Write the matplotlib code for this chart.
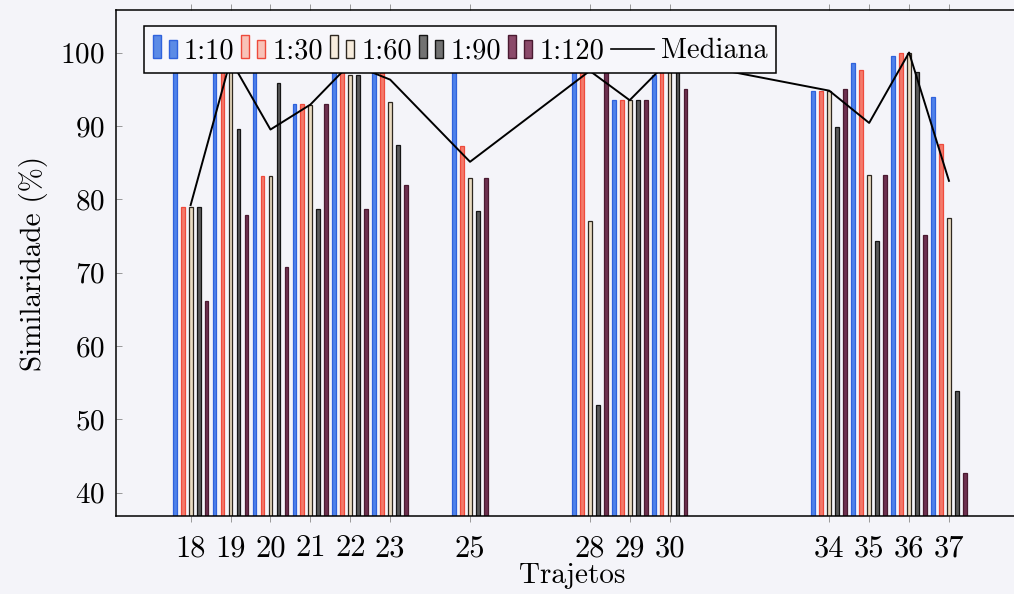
import matplotlib
matplotlib.use('Agg')
import numpy as np
from matplotlib import pyplot as plt
from matplotlib.patches import Rectangle
from matplotlib.lines import Line2D
from matplotlib.offsetbox import DrawingArea, TextArea, HPacker, AnchoredOffsetbox

plt.rcParams['font.family'] = 'serif'
plt.rcParams['font.serif'] = ['cmr10']
plt.rcParams['mathtext.fontset'] = 'cm'
plt.rcParams['axes.formatter.use_mathtext'] = True

# trajectories and similarity per sampling scale
trajetos = [18, 19, 20, 21, 22, 23, 25, 28, 29, 30, 34, 35, 36, 37]
s_1_10 = [100, 100, 100, 93.0, 100, 97.3, 100, 100, 93.5, 96.9, 94.8, 98.6, 99.5, 93.9]
s_1_30 = [79.0, 99.0, 83.2, 93.0, 100, 98.0, 87.3, 100, 93.5, 100, 94.8, 97.6, 100, 87.5]
s_1_60 = [79.0, 98.0, 83.2, 92.8, 97.0, 93.2, 82.9, 77.0, 93.5, 100, 94.8, 83.3, 100, 77.5]
s_1_90 = [79.0, 89.6, 95.9, 78.7, 97.0, 87.4, 78.4, 52.0, 93.5, 100, 89.9, 74.3, 97.4, 53.9]
s_1_120 = [66.1, 77.8, 70.7, 93.0, 78.7, 82.0, 82.9, 99.0, 93.5, 95.0, 95.0, 83.3, 75.1, 42.6]
mediana = [79.2, 99.0, 89.5, 92.9, 98.5, 96.3, 85.1, 97.5, 93.5, 99.0, 94.8, 90.4, 100.0, 82.5]

labels = ['1:10', '1:30', '1:60', '1:90', '1:120']
series = [s_1_10, s_1_30, s_1_60, s_1_90, s_1_120]
fills = ['#4f82ea', '#f47a6a', '#eadcc2', '#5a5a5a', '#6e3050']
edges = ['#2f62dc', '#ee4a3c', '#2e2820', '#151515', '#4a1a30']
leg_fills = ['#5b8be6', '#f8c2b8', '#f7ecdc', '#727272', '#8b4a6a']

bg = '#f4f4f9'
fs = 21

fig = plt.figure(figsize=(10.14, 5.94), dpi=100, facecolor=bg)
ax = fig.add_axes([116 / 1014, 78 / 594, 912 / 1014, 506 / 594], facecolor=bg)

x = np.array(trajetos, dtype=float)
for i, (vals, fc, ec) in enumerate(zip(series, fills, edges)):
    ax.bar(x + (i - 2) * 0.2, vals, width=0.095, color=fc, edgecolor=ec,
           linewidth=0.9, zorder=2)

ax.plot(x, mediana, color='black', lw=1.4, zorder=3)

ax.set_xlim(16.13, 38.98)
ax.set_ylim(36.8, 105.8)
ax.set_xticks(trajetos)
ax.set_xticklabels([str(t) for t in trajetos])
ax.set_yticks(range(40, 101, 10))
ax.tick_params(axis='x', direction='out', top=True, length=4.5, width=0.6,
               color='#8a8a8a', labelsize=fs + 1, pad=9)
ax.tick_params(axis='y', direction='in', length=4, width=0.6,
               color='#8a8a8a', labelsize=fs, pad=8)
for sp in ax.spines.values():
    sp.set_linewidth(1.1)
ax.spines['right'].set_visible(False)

ax.set_xlabel('Trajetos', fontsize=fs, labelpad=0)
ax.set_ylabel('Similaridade (%)', fontsize=fs, labelpad=9)

# legend: two little bars per entry, like pgfplots ybar legends
lfs = 20.5
items = []
for lab, fc, ec in zip(labels, leg_fills, edges):
    da = DrawingArea(18, 17, 0, 0)
    da.add_artist(Rectangle((0, 0), 5.8, 17, facecolor=fc, edgecolor=ec, lw=1))
    da.add_artist(Rectangle((11.5, 0), 5.8, 13.5, facecolor=fc, edgecolor=ec, lw=1))
    ta = TextArea(lab, textprops=dict(fontsize=lfs))
    items.append(HPacker(children=[da, ta], sep=4.5, align='baseline', pad=0))
da = DrawingArea(31, 10, 0, 0)
da.add_artist(Line2D([0, 31], [6.5, 6.5], color='black', lw=1.2))
ta = TextArea('Mediana', textprops=dict(fontsize=lfs))
items.append(HPacker(children=[da, ta], sep=5, align='baseline', pad=0))

box = HPacker(children=items, sep=5, align='baseline', pad=0)
anch = AnchoredOffsetbox(loc='upper left', child=box, pad=0.3, borderpad=0,
                         frameon=True, prop=dict(size=lfs),
                         bbox_to_anchor=(0.0307, 0.968), bbox_transform=ax.transAxes)
anch.patch.set_facecolor('#f7f7fb')
anch.patch.set_edgecolor('black')
anch.patch.set_linewidth(1.1)
anch.set_zorder(5)
ax.add_artist(anch)

fig.savefig('out.png', dpi=100, facecolor=bg)
